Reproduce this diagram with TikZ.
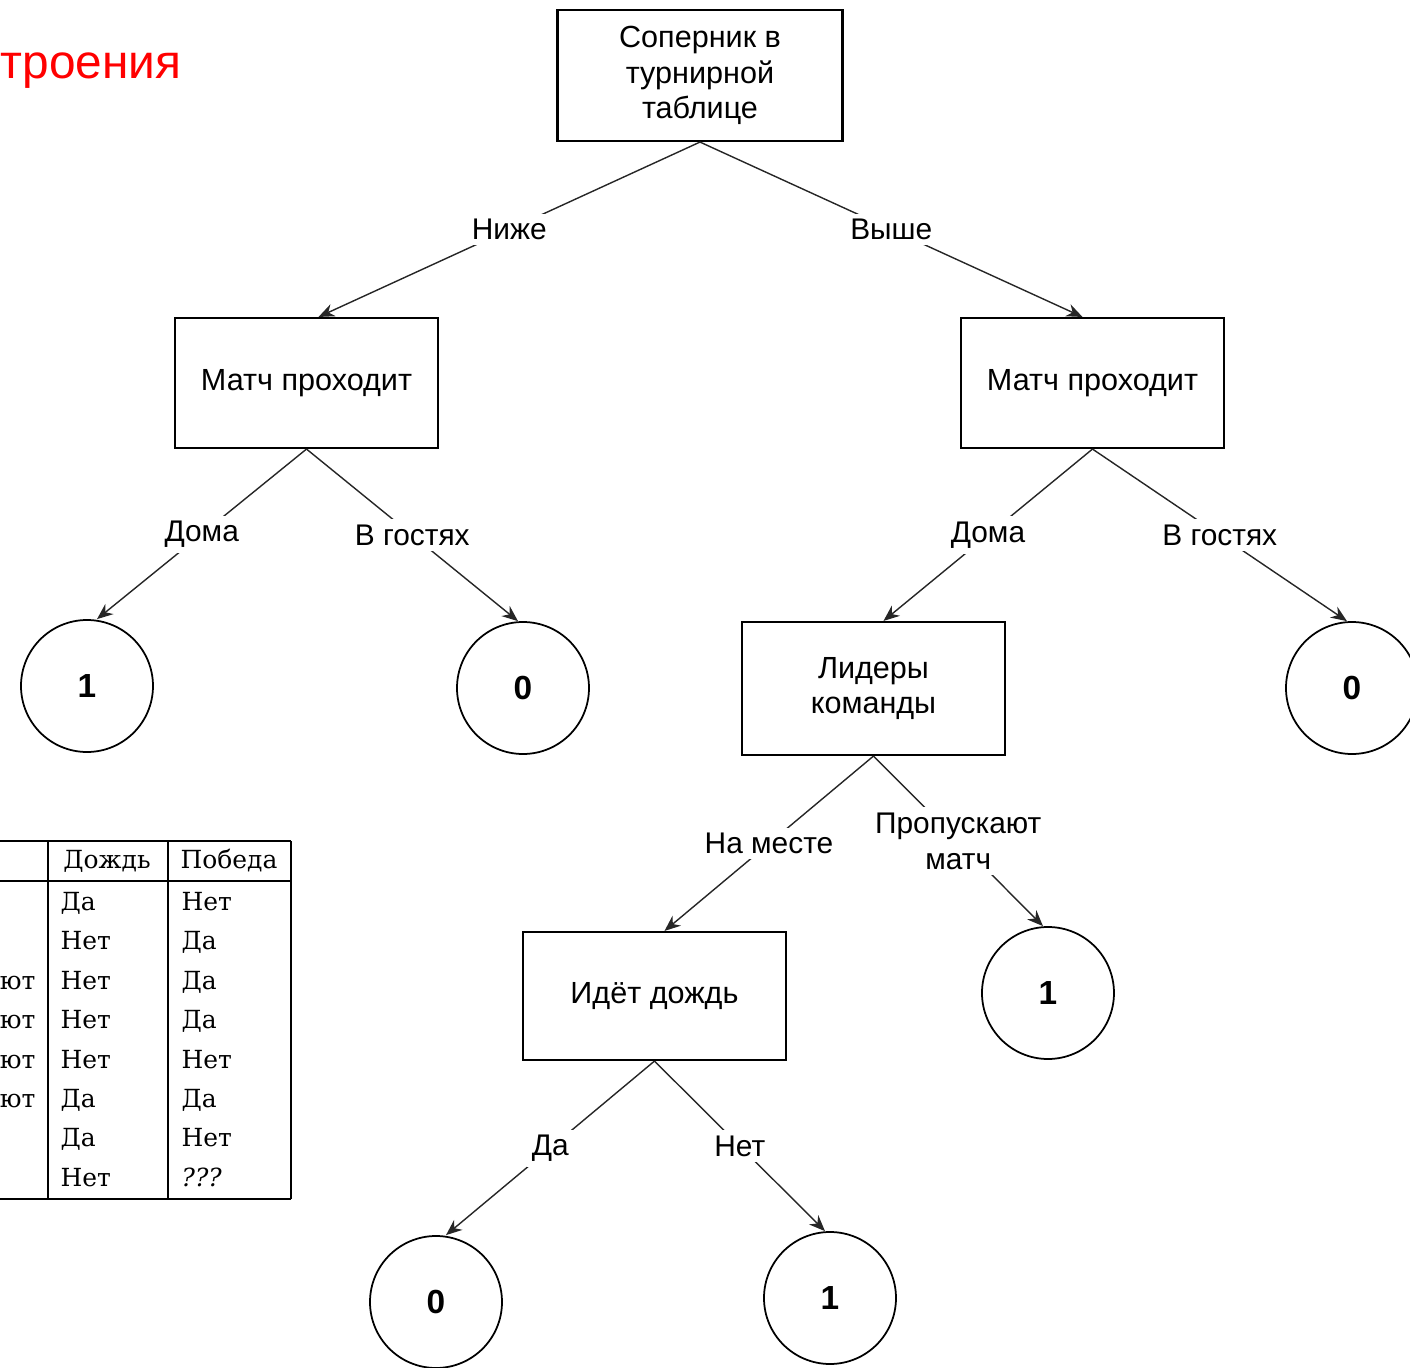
\documentclass[tikz,border=0pt]{standalone}
\usepackage{fontspec}
\setmainfont{Liberation Sans}
\newfontfamily\tabfont{DejaVu Serif}
\usepackage{xcolor}
\usetikzlibrary{shapes,arrows,arrows.meta,positioning}
\definecolor{title}{HTML}{FF0000}

\begin{document}
\begin{tikzpicture}[
        decision/.style={rectangle, draw, line width=0.6pt, minimum width=2.63cm, minimum height=1.3cm, align=center, font=\fontsize{8.7}{10.2}\selectfont},
        leaf/.style={circle, draw, line width=0.5pt, minimum size=1.32cm, inner sep=0pt, font=\fontsize{9.5}{11}\selectfont\bfseries},
        arrow/.style={->, >={Stealth[length=1.6mm, width=1.3mm]}, line width=0.4pt, black!85},
        lbl/.style={fill=white, inner sep=1.5pt, align=center, text=black, font=\fontsize{8.5}{10.2}\selectfont},
        cell/.style={anchor=west, inner sep=0pt, text height=1.7mm, text depth=0.4mm, font=\tabfont\fontsize{7.1}{8.5}\selectfont}
    ]
        \clip (0,0) rectangle (14.1,-13.68);
        \useasboundingbox (0,0) rectangle (14.1,-13.68);

        \node[anchor=base west, inner sep=0pt, text=title, font=\fontsize{13.6}{16}\selectfont] (head) at (0,-0.78) {троения};

        % tree
        \node[decision, minimum width=2.85cm, minimum height=1.31cm] (rival) at (7.0,-0.755) {Соперник в\\турнирной\\таблице};
        \node[decision] (matchL) at (3.065,-3.83) {Матч проходит};
        \node[decision] (matchR) at (10.925,-3.83) {Матч проходит};
        \node[leaf] (homeL) at (0.87,-6.86) {1};
        \node[leaf] (awayL) at (5.23,-6.88) {0};
        \node[decision, minimum height=1.33cm] (leaders) at (8.735,-6.885) {Лидеры\\команды};
        \node[leaf] (awayR) at (13.52,-6.88) {0};
        \node[leaf] (skip) at (10.48,-9.93) {1};
        \node[decision, minimum height=1.28cm] (rain) at (6.545,-9.96) {Идёт дождь};
        \node[leaf] (rainYes) at (4.36,-13.02) {0};
        \node[leaf] (rainNo) at (8.30,-12.98) {1};

        \draw[arrow] (rival.south) -- node[lbl] {Ниже} ([xshift=1.2mm]matchL.north);
        \draw[arrow] (rival.south) -- node[lbl] {Выше} ([xshift=-1mm]matchR.north);
        \draw[arrow] (matchL.south) -- node[lbl] {Дома} ([xshift=1mm]homeL.north);
        \draw[arrow] (matchL.south) -- node[lbl] {В гостях} ([xshift=-0.5mm]awayL.north);
        \draw[arrow] (matchR.south) -- node[lbl] {Дома} ([xshift=1mm]leaders.north);
        \draw[arrow] (matchR.south) -- node[lbl] {В гостях} ([xshift=-0.5mm]awayR.north);
        \draw[arrow] (leaders.south) -- node[lbl] {На месте} ([xshift=1mm]rain.north);
        \draw[arrow] (leaders.south) -- node[lbl] {Пропускают\\матч} ([xshift=-0.5mm]skip.north);
        \draw[arrow] (rain.south) -- node[lbl] {Да} ([xshift=1mm]rainYes.north);
        \draw[arrow] (rain.south) -- node[lbl] {Нет} ([xshift=-0.5mm]rainNo.north);

        % table
        \draw[line width=0.55pt] (0,-8.41) -- (2.91,-8.41) (0,-8.81) -- (2.91,-8.81) (0,-11.99) -- (2.91,-11.99);
        \draw[line width=0.55pt] (0.48,-8.41) -- (0.48,-11.99) (1.68,-8.41) -- (1.68,-11.99) (2.91,-8.41) -- (2.91,-11.99);
        \node[cell, anchor=center] (hRain) at (1.07,-8.62) {Дождь};
        \node[cell, anchor=center] (hWin) at (2.29,-8.62) {Победа};
        \foreach \r/\w [count=\i] in {Да/Нет, Нет/Да, Нет/Да, Нет/Да, Нет/Нет, Да/Да, Да/Нет, Нет/{\itshape ???}} {
            \node[cell] (rain\i) at (0.60,{-9.04-(\i-1)*0.394}) {\r};
            \node[cell] (win\i) at (1.81,{-9.04-(\i-1)*0.394}) {\w};
        }
        \foreach \i in {3,...,6}
            \node[cell, anchor=east] (cut\i) at (0.36,{-9.04-(\i-1)*0.394}) {ют};
    \end{tikzpicture}
\end{document}
